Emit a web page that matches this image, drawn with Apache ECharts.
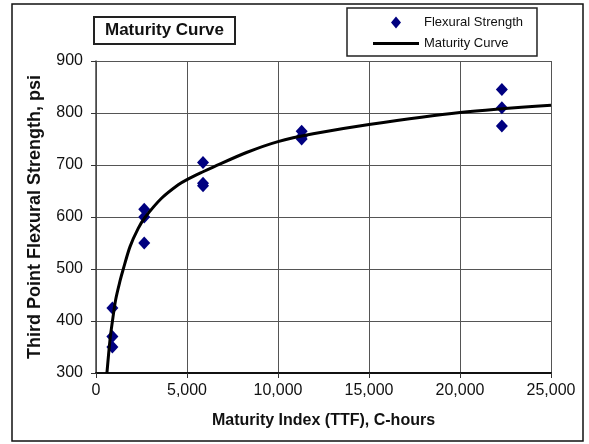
<!DOCTYPE html>
<html>
<head>
<meta charset="utf-8">
<script src="https://cdn.jsdelivr.net/npm/echarts@6/dist/echarts.min.js"></script>
<style>
html,body{margin:0;padding:0;background:#fff;}
#chart{width:589px;height:444px;}
</style>
</head>
<body>
<div id="chart"></div>
<script>
// Measured flexural strength (scatter)
const strengthX = [900, 900, 900, 2650, 2650, 2650, 5880, 5880, 5880, 11300, 11300, 11300, 22300, 22300, 22300];
const strengthY = [425, 370, 350, 615, 600, 550, 705, 665, 660, 765, 755, 750, 845, 810, 775];

// Maturity curve
const curveX = [600, 770, 900, 1080, 1320, 1500, 1870, 2320, 2690, 3600, 4520, 5000, 5880, 6440, 8270, 10000, 11930, 15000, 20000, 25000];
const curveY = [300, 364, 399, 441, 477, 500, 543, 578, 599, 636, 662, 672, 687, 696, 724, 745, 760, 778, 801, 815];

const seriesNames = ['Flexural Strength', 'Maturity Curve'];
const chartTitle = 'Maturity Curve';
const xName = 'Maturity Index (TTF), C-hours';
const yName = 'Third Point Flexural Strength, psi';

const scatterData = strengthX.map((x, i) => [x, strengthY[i]]);
const curveData = curveX.map((x, i) => [x, curveY[i]]);

const chart = echarts.init(document.getElementById('chart'), null, {renderer: 'canvas'});
const font = '"Liberation Sans", Arial, sans-serif';

chart.setOption({
  animation: false,
  backgroundColor: '#fff',
  textStyle: {fontFamily: font},
  graphic: [{
    type: 'rect',
    shape: {x: 12, y: 4, width: 571, height: 437},
    style: {fill: 'none', stroke: '#111', lineWidth: 1.5},
    silent: true
  }],
  title: {
    text: chartTitle,
    left: 94, top: 17,
    padding: [5, 11, 5, 11],
    borderColor: '#222', borderWidth: 2,
    textStyle: {fontFamily: font, fontSize: 17, fontWeight: 'bold', color: '#111'}
  },
  legend: {
    orient: 'vertical',
    left: 347, top: 8,
    padding: [8, 14, 6, 26],
    itemWidth: 46, itemHeight: 12, itemGap: 8,
    symbolKeepAspect: true,
    borderColor: '#222', borderWidth: 1.5,
    textStyle: {fontFamily: font, fontSize: 13, color: '#111'},
    data: [
      {name: seriesNames[0], icon: 'path://M5,0L10,6L5,12L0,6Z'},
      {name: seriesNames[1], icon: 'path://M0,0H48V3H0Z'}
    ]
  },
  grid: {left: 96, right: 38, top: 61, bottom: 71, containLabel: false},
  xAxis: {
    type: 'value', min: 0, max: 25000, interval: 5000,
    name: xName, nameLocation: 'middle', nameGap: 40,
    nameTextStyle: {fontFamily: font, fontSize: 16, fontWeight: 'bold', color: '#111'},
    axisLine: {show: true, onZero: false, lineStyle: {color: '#111', width: 2}},
    axisTick: {show: true, inside: false, length: 5, lineStyle: {color: '#333'}},
    axisLabel: {fontFamily: font, fontSize: 16, color: '#111', margin: 10,
      formatter: v => v.toLocaleString('en-US')},
    splitLine: {show: true, lineStyle: {color: '#555', width: 1}}
  },
  yAxis: {
    type: 'value', min: 300, max: 900, interval: 100,
    name: yName, nameLocation: 'middle', nameGap: 52, nameRotate: 90,
    nameTextStyle: {fontFamily: font, fontSize: 18, fontWeight: 'bold', color: '#111'},
    axisLine: {show: true, onZero: false, lineStyle: {color: '#444', width: 1.5}},
    axisTick: {show: true, inside: false, length: 5, lineStyle: {color: '#333'}},
    axisLabel: {fontFamily: font, fontSize: 16, color: '#111', margin: 13},
    splitLine: {show: true, lineStyle: {color: '#555', width: 1}}
  },
  series: [
    {
      name: seriesNames[0],
      type: 'scatter',
      symbol: 'diamond',
      symbolSize: [12, 13],
      itemStyle: {color: '#000080', opacity: 1},
      data: scatterData,
      z: 3
    },
    {
      name: seriesNames[1],
      type: 'line',
      smooth: 0.3,
      symbol: 'none',
      lineStyle: {color: '#000', width: 3},
      itemStyle: {color: '#000'},
      data: curveData,
      z: 4
    }
  ]
});
</script>
</body>
</html>
